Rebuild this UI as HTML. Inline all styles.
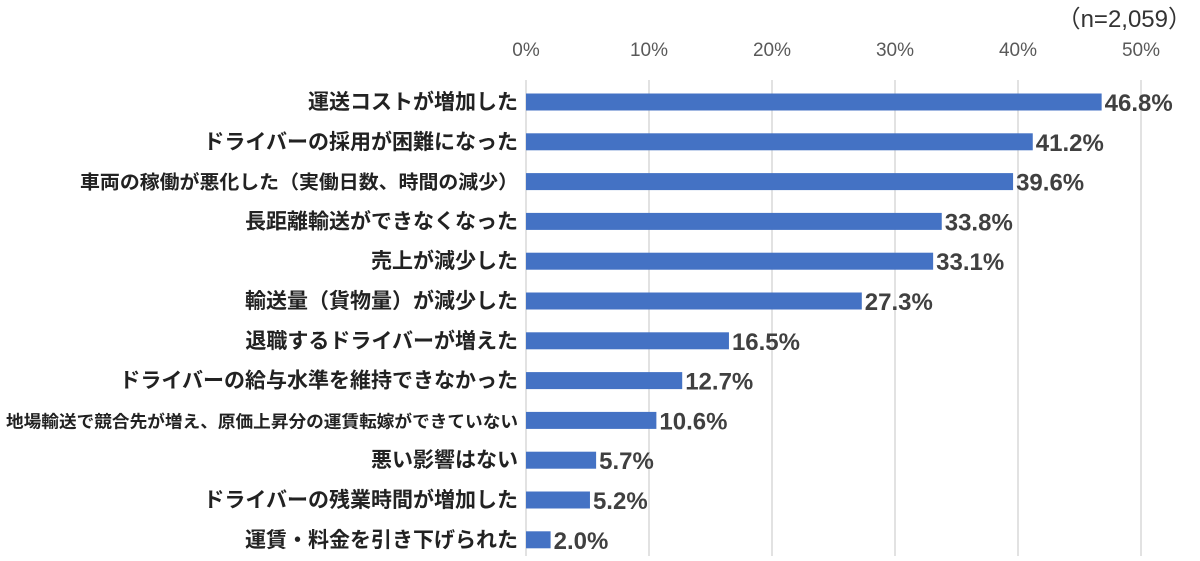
<!DOCTYPE html>
<html><head><meta charset="utf-8"><style>
body{margin:0;background:#fff;width:1200px;height:556px;overflow:hidden;font-family:"Liberation Sans","Noto Sans CJK JP",sans-serif}
</style></head><body>
<svg id="c" width="1200" height="556" xmlns="http://www.w3.org/2000/svg">
<text x="1192" y="27" text-anchor="end" font-size="24" fill="#333">（n=2,059）</text>
<g id="grid"></g><g id="bars"></g>
</svg>
<script>
const categories=["運送コストが増加した","ドライバーの採用が困難になった","車両の稼働が悪化した（実働日数、時間の減少）","長距離輸送ができなくなった","売上が減少した","輸送量（貨物量）が減少した","退職するドライバーが増えた","ドライバーの給与水準を維持できなかった","地場輸送で競合先が増え、原価上昇分の運賃転嫁ができていない","悪い影響はない","ドライバーの残業時間が増加した","運賃・料金を引き下げられた"];
const values=[46.8,41.2,39.6,33.8,33.1,27.3,16.5,12.7,10.6,5.7,5.2,2.0];
const ticks=[0,10,20,30,40,50];
const NS="http://www.w3.org/2000/svg";
const x=v=>526+v*12.3;
const y=i=>102+i*39.8;
function mk(t,a,p){const e=document.createElementNS(NS,t);for(const k in a)e.setAttribute(k,a[k]);p.appendChild(e);return e;}
const g=document.getElementById('grid'),b=document.getElementById('bars');
ticks.forEach(t=>{
 const l=mk('line',{x1:x(t),x2:x(t),y1:80,y2:556,stroke:'#d9d9d9','stroke-width':1.5},g);
 
 
 const s=mk('text',{x:x(t),y:56,'text-anchor':'middle','font-size':19,fill:'#595959'},g);
 s.textContent=t+'%';
 
 
});
categories.forEach((c,i)=>{
 const r=mk('rect',{x:x(0),y:y(i)-8.5,width:x(values[i])-x(0),height:17,fill:'#4472c4'},b);
 
 
 const attrs={x:518,y:y(i)+7,'text-anchor':'end','font-size':i==8?17:i==2?19:21,'font-weight':'bold',fill:'#222'};
 if(i==2){attrs.textLength=438;attrs.lengthAdjust='spacingAndGlyphs';}
 if(i==8){attrs.textLength=512;attrs.lengthAdjust='spacingAndGlyphs';}
 const lab=mk('text',attrs,b);
 lab.textContent=c;
 
 
 const v=mk('text',{x:x(values[i])+3,y:y(i)+9,'font-size':24,'font-weight':'bold',fill:'#404040'},b);
 v.textContent=values[i].toFixed(1)+'%';
 
 
});
</script>
</body></html>
